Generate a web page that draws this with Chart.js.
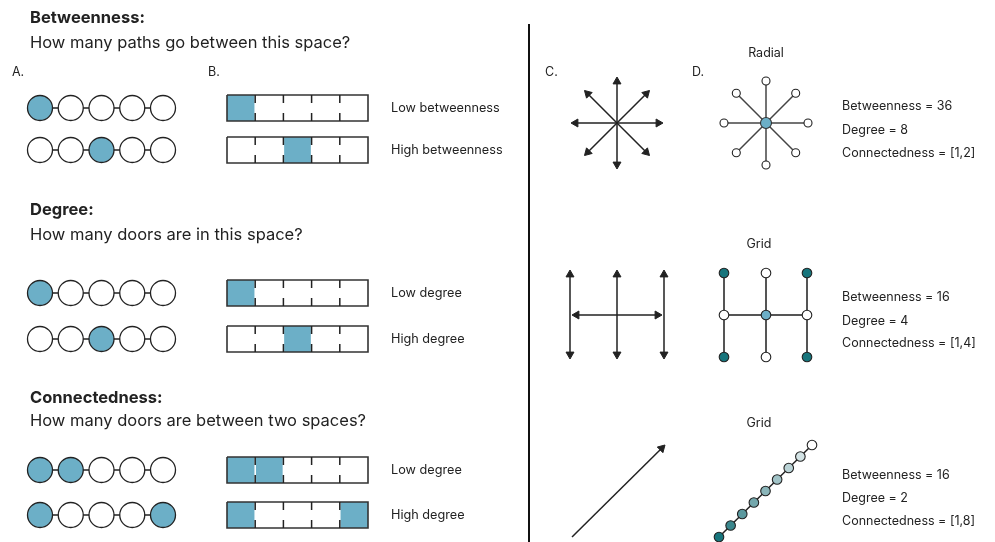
<!DOCTYPE html>
<html>
<head>
<meta charset="utf-8">
<script src="https://cdn.jsdelivr.net/npm/chart.js@4.4.0/dist/chart.umd.min.js"></script>
<style>
  body { margin: 0; background: #fff; }
  canvas { display: block; }
</style>
</head>
<body>
<canvas id="diagram" width="995" height="542"></canvas>
<script>
// --- values ---
const sectionTitles = ['Betweenness:', 'Degree:', 'Connectedness:'];
const sectionQuestions = [
  'How many paths go between this space?',
  'How many doors are in this space?',
  'How many doors are between two spaces?'
];
// 1 = highlighted space, 0 = plain space (five spaces per row)
const betweennessRows = [[1, 0, 0, 0, 0], [0, 0, 1, 0, 0]];
const degreeRows = [[1, 0, 0, 0, 0], [0, 0, 1, 0, 0]];
const connectedRows = [[1, 1, 0, 0, 0], [1, 0, 0, 0, 1]];
const betweennessLabels = ['Low betweenness', 'High betweenness'];
const degreeLabels = ['Low degree', 'High degree'];
const connectedLabels = ['Low degree', 'High degree'];
const panelLetters = ['A.', 'B.', 'C.', 'D.'];

const layoutNames = ['Radial', 'Grid', 'Grid'];
const metricBetweenness = [36, 16, 16];
const metricDegree = [8, 4, 2];
const metricConnectedness = ['[1,2]', '[1,4]', '[1,8]'];

// --- layout (pixel units, the scales run 0..995 and 0..542) ---
const W = 995, H = 542;
const BLUE = '#6cafc7';
const TEAL = '#17757c';
const INK = '#222';
const chainShades = ['#17757c', '#3a878d', '#5a989e', '#73a7ac', '#8ab5b9', '#a1c3c7', '#bad3d6', '#d3e3e5', '#ffffff'];

const rowsY = [[108, 150], [293, 339], [470, 515]];
const titleY = [18, 210, 398];
const questionY = [43, 235, 421];
const circleX0 = 40, circleStep = 30.75, circleR = 12.5;
const boxX0 = 227, cellW = 28.2, boxH = 26;
const labelX = 391;
const metricX = 842;

const datasets = [];

function segment(pts, color, width, order) {
  datasets.push({
    data: pts.map(p => ({ x: p[0], y: p[1] })),
    showLine: true, borderColor: color, borderWidth: width,
    borderCapStyle: 'butt', borderJoinStyle: 'miter',
    pointRadius: 0, pointHoverRadius: 0, order: order, clip: false
  });
}

function dots(pts, radius, fills, border, bw, order) {
  datasets.push({
    data: pts.map(p => ({ x: p[0], y: p[1] })),
    showLine: false, pointRadius: radius, pointHoverRadius: radius,
    pointBackgroundColor: fills, pointBorderColor: border, pointBorderWidth: bw,
    order: order, clip: false
  });
}

// arrow from a to b with a triangular head at b
function arrow(a, b, headAtStart) {
  const r = 4.6;
  const dx = b[0] - a[0], dy = b[1] - a[1];
  const len = Math.hypot(dx, dy), ux = dx / len, uy = dy / len;
  const end = [b[0] - ux * r, b[1] - uy * r];
  const start = headAtStart ? [a[0] + ux * r, a[1] + uy * r] : a;
  segment([start, end], INK, 1.5, 3);
  const heads = [{ c: end, rot: Math.atan2(ux, -uy) * 180 / Math.PI }];
  if (headAtStart) heads.push({ c: start, rot: Math.atan2(-ux, uy) * 180 / Math.PI });
  heads.forEach(h => {
    datasets.push({
      data: [{ x: h.c[0], y: h.c[1] }], showLine: false,
      pointStyle: 'triangle', pointRadius: r, pointHoverRadius: r, pointRotation: h.rot,
      pointBackgroundColor: INK, pointBorderColor: INK, pointBorderWidth: 1,
      order: 2, clip: false
    });
  });
}

// left column: chains of spaces and strips of rooms
[betweennessRows, degreeRows, connectedRows].forEach((rows, s) => {
  rows.forEach((flags, r) => {
    const y = rowsY[s][r];
    const pts = flags.map((_, i) => [circleX0 + i * circleStep, y]);
    segment(pts, INK, 1.5, 6);
    dots(pts, circleR, flags.map(f => f ? BLUE : '#fff'), INK, 1.3, 5);

    const y0 = y - boxH / 2, y1 = y + boxH / 2;
    const x1 = boxX0 + cellW * flags.length;
    flags.forEach((f, i) => {
      if (f) segment([[boxX0 + i * cellW, y], [boxX0 + (i + 1) * cellW, y]], BLUE, boxH, 9);
    });
    for (let i = 1; i < flags.length; i++) {
      const x = boxX0 + i * cellW;
      segment([[x, y0], [x, y1]], '#fff', 1.5, 8);
      segment([[x, y0], [x, y0 + 8]], INK, 1.5, 7);
      segment([[x, y1 - 8], [x, y1]], INK, 1.5, 7);
    }
    segment([[boxX0, y0], [x1, y0], [x1, y1], [boxX0, y1], [boxX0, y0]], '#333', 1.6, 7);
  });
});

// divider
segment([[529, 24], [529, H]], '#111', 2, 4);

// C. radial arrows
const starC = [617, 123], starLen = 46;
for (let k = 0; k < 8; k++) {
  const a = k * Math.PI / 4;
  arrow(starC, [starC[0] + Math.cos(a) * starLen, starC[1] + Math.sin(a) * starLen], false);
}

// D. radial graph
const starD = [766, 123], spoke = 42;
const outer = [];
for (let k = 0; k < 8; k++) {
  const a = k * Math.PI / 4;
  outer.push([starD[0] + Math.cos(a) * spoke, starD[1] + Math.sin(a) * spoke]);
}
outer.forEach(p => segment([starD, p], '#444', 1.5, 6));
dots(outer, 4, '#fff', INK, 1.1, 1);
dots([starD], 5.5, BLUE, '#333', 1.1, 1);

// C. grid arrows
const gridCX = [570, 617, 664];
gridCX.forEach(x => arrow([x, 270], [x, 359], true));
arrow([572, 315], [662, 315], true);

// D. grid graph
const gx = [724, 766, 807], gy = [273, 315, 357];
gx.forEach(x => segment([[x, gy[0]], [x, gy[2]]], '#555', 2, 6));
segment([[gx[0], gy[1]], [gx[2], gy[1]]], '#555', 2, 6);
const gridNodes = [], gridFill = [];
const gridKinds = [['t', 'w', 't'], ['w', 'b', 'w'], ['t', 'w', 't']];
gy.forEach((y, r) => gx.forEach((x, c) => {
  gridNodes.push([x, y]);
  gridFill.push({ t: TEAL, w: '#fff', b: BLUE }[gridKinds[r][c]]);
}));
dots(gridNodes, 4.8, gridFill, INK, 1.1, 1);

// C. line arrow
arrow([572, 537], [665, 445], false);

// D. line graph
const chainStart = [719, 537], chainEnd = [812, 445];
const chainPts = chainShades.map((_, i) => [
  chainStart[0] + (chainEnd[0] - chainStart[0]) * i / (chainShades.length - 1),
  chainStart[1] + (chainEnd[1] - chainStart[1]) * i / (chainShades.length - 1)
]);
segment(chainPts, INK, 1.5, 6);
dots(chainPts, 4.8, chainShades, INK, 1.1, 1);

// --- text ---
const FONT = 'Inter, "Liberation Sans", sans-serif';
const texts = [];
sectionTitles.forEach((t, i) => texts.push({ t, x: 30, y: titleY[i], font: 'bold 16.5px ' + FONT }));
sectionQuestions.forEach((t, i) => texts.push({ t, x: 30, y: questionY[i], font: '16.5px ' + FONT }));
[[12, 72], [208, 72], [545, 72], [692, 72]].forEach((p, i) =>
  texts.push({ t: panelLetters[i], x: p[0], y: p[1], font: '12.5px ' + FONT }));
[betweennessLabels, degreeLabels, connectedLabels].forEach((labels, s) =>
  labels.forEach((t, r) => texts.push({ t, x: labelX, y: rowsY[s][r], font: '12.7px ' + FONT })));
const nameAt = [[766, 53], [759, 244], [759, 423]];
const metricY = [[106, 130, 153], [297, 321, 343], [475, 498, 521]];
layoutNames.forEach((t, i) => {
  texts.push({ t, x: nameAt[i][0], y: nameAt[i][1], font: '12.5px ' + FONT, align: 'center' });
  texts.push({ t: 'Betweenness = ' + metricBetweenness[i], x: metricX, y: metricY[i][0], font: '12.5px ' + FONT });
  texts.push({ t: 'Degree = ' + metricDegree[i], x: metricX, y: metricY[i][1], font: '12.5px ' + FONT });
  texts.push({ t: 'Connectedness = ' + metricConnectedness[i], x: metricX, y: metricY[i][2], font: '12.5px ' + FONT });
});

const textPlugin = {
  id: 'diagramText',
  afterDatasetsDraw(chart) {
    const ctx = chart.ctx, xs = chart.scales.x, ys = chart.scales.y;
    ctx.save();
    ctx.fillStyle = INK;
    ctx.textBaseline = 'middle';
    texts.forEach(d => {
      ctx.font = d.font;
      ctx.textAlign = d.align || 'left';
      ctx.fillText(d.t, xs.getPixelForValue(d.x), ys.getPixelForValue(d.y));
    });
    ctx.restore();
  }
};

new Chart(document.getElementById('diagram').getContext('2d'), {
  type: 'scatter',
  data: { datasets },
  options: {
    responsive: false,
    animation: false,
    events: [],
    layout: { padding: 0, autoPadding: false },
    plugins: { legend: { display: false }, tooltip: { enabled: false } },
    scales: {
      x: { type: 'linear', min: 0, max: W, display: false },
      y: { type: 'linear', min: 0, max: H, reverse: true, display: false }
    }
  },
  plugins: [textPlugin]
});
</script>
</body>
</html>
